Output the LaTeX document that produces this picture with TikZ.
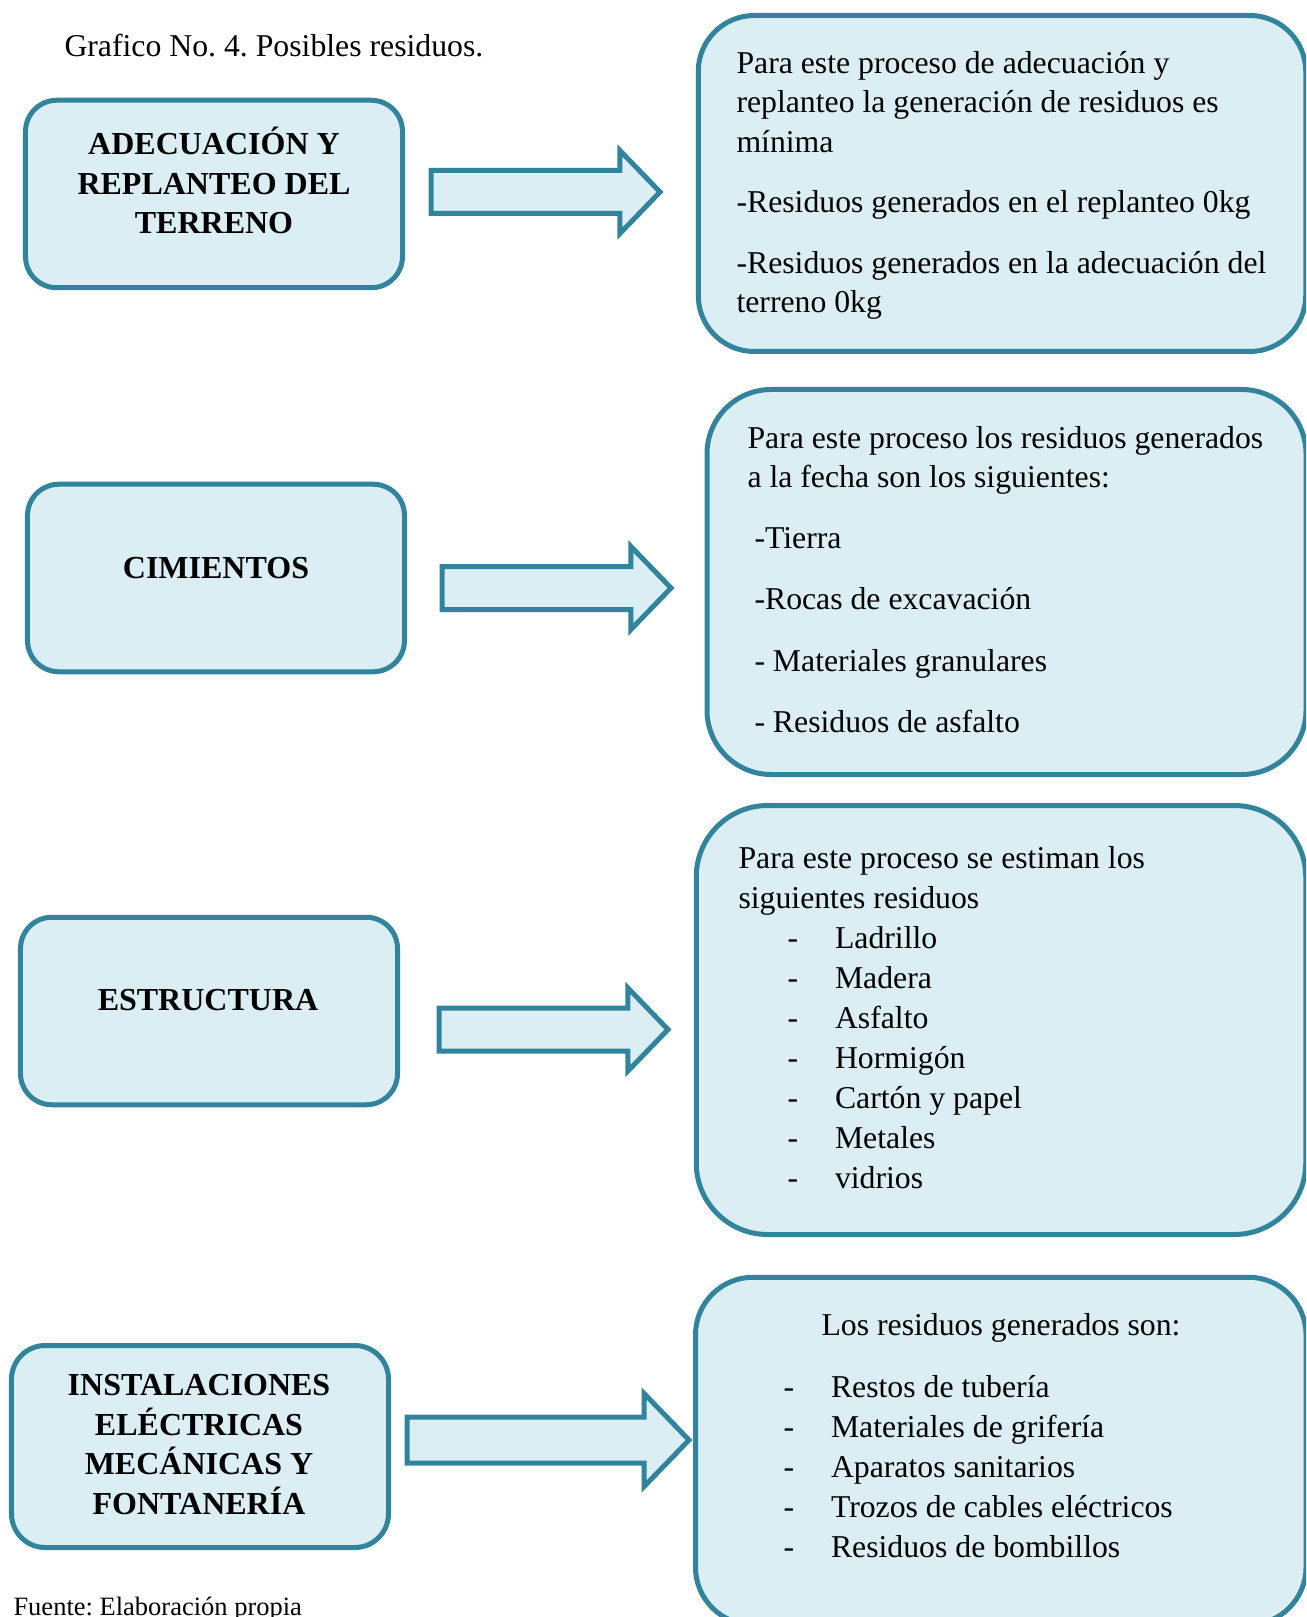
\documentclass[tikz,border=0pt]{standalone}
\usepackage{fontspec}
\setmainfont{Liberation Serif}
\usetikzlibrary{shapes.arrows,positioning}
\definecolor{boxfill}{HTML}{DAEEF3}
\definecolor{boxline}{HTML}{31849B}
\newcommand{\guion}[1]{\makebox[19pt][l]{-}#1}
\frenchspacing

\begin{document}
\begin{tikzpicture}[x=0.4pt,y=-0.4pt,
  lbox/.style={draw=boxline,fill=boxfill,line width=2pt,minimum width=150.8pt,minimum height=75pt,rounded corners=12.5pt},
  rbox/.style={draw=boxline,fill=boxfill,line width=2pt},
  flecha/.style={single arrow,draw=boxline,fill=boxfill,line width=2pt,anchor=tail,inner xsep=0pt,inner ysep=7.6pt,
    minimum height=91.6pt,minimum width=30pt,single arrow head extend=8pt,single arrow tip angle=92},
  etapa/.style={font=\bfseries\fontsize{12.8}{15.8}\selectfont,align=center,anchor=base,inner sep=0pt},
  texto/.style={font=\fontsize{12.7}{15.8}\selectfont,align=left,anchor=base west,inner sep=0pt}]
  \useasboundingbox (0,0) rectangle (1306,1617);
  \clip (0,0) rectangle (1306,1617);
  \node[texto] (titulo) at (64,57) {Grafico No. 4. Posibles residuos.};

  \node[lbox] (l1) at (214,194) {};
  \node[etapa] (e1) at (214,234) {ADECUACIÓN Y\\REPLANTEO DEL\\TERRENO};
  \node[flecha] (a1) at (428.5,192) {};
  \node[rbox,minimum width=243pt,minimum height=134.4pt,rounded corners=22.4pt] (r1) at (1002,183.5) {};
  \node[texto] (t1) at (736,313) {Para este proceso de adecuación y\\replanteo la generación de residuos es\\mínima\\[8.4pt]
    -Residuos generados en el replanteo 0kg\\[8.4pt]
    -Residuos generados en la adecuación del\\terreno 0kg};

  \node[lbox] (l2) at (216,578) {};
  \node[etapa] (e2) at (216,578) {CIMIENTOS};
  \node[flecha] (a2) at (439.5,588) {};
  \node[rbox,minimum width=239.6pt,minimum height=154pt,rounded corners=25.7pt] (r2) at (1006.5,582) {};
  \node[texto] (t2) at (747,732) {Para este proceso los residuos generados\\a la fecha son los siguientes:\\[8.6pt]
    \hspace*{2.8pt}-Tierra\\[8.6pt]
    \hspace*{2.8pt}-Rocas de excavación\\[8.6pt]
    \hspace*{2.8pt}- Materiales granulares\\[8.6pt]
    \hspace*{2.8pt}- Residuos de asfalto};

  \node[lbox] (l3) at (209,1011) {};
  \node[etapa] (e3) at (208,1010) {ESTRUCTURA};
  \node[flecha] (a3) at (436.5,1029.5) {};
  \node[rbox,minimum width=243.8pt,minimum height=171.6pt,rounded corners=28.6pt] (r3) at (1001,1020) {};
  \node[texto,font=\fontsize{12.7}{16}\selectfont] (t3) at (738,1188) {Para este proceso se estiman los\\siguientes residuos\\
    \hspace*{19.6pt}\guion{Ladrillo}\\
    \hspace*{19.6pt}\guion{Madera}\\
    \hspace*{19.6pt}\guion{Asfalto}\\
    \hspace*{19.6pt}\guion{Hormigón}\\
    \hspace*{19.6pt}\guion{Cartón y papel}\\
    \hspace*{19.6pt}\guion{Metales}\\
    \hspace*{19.6pt}\guion{vidrios}};

  \node[lbox,minimum height=80.8pt,rounded corners=13.5pt] (l4) at (200,1446.5) {};
  \node[etapa] (e4) at (199,1514) {INSTALACIONES\\ELÉCTRICAS\\MECÁNICAS Y\\FONTANERÍA};
  \node[flecha,inner ysep=8.2pt,minimum height=112.8pt,minimum width=34pt,single arrow head extend=9.4pt] (a4) at (404.5,1440) {};
  \node[rbox,minimum width=244.2pt,minimum height=139pt,rounded corners=23pt] (r4) at (1000.75,1451) {};
  \node[texto,anchor=base] (t4) at (1001,1335) {Los residuos generados son:};
  \node[texto,font=\fontsize{12.7}{16}\selectfont] (t5) at (783,1557) {\guion{Restos de tubería}\\
    \guion{Materiales de grifería}\\
    \guion{Aparatos sanitarios}\\
    \guion{Trozos de cables eléctricos}\\
    \guion{Residuos de bombillos}};

  \node[texto,font=\fontsize{10.6}{13}\selectfont] (fuente) at (13,1615) {Fuente: Elaboración propia};
\end{tikzpicture}
\end{document}
